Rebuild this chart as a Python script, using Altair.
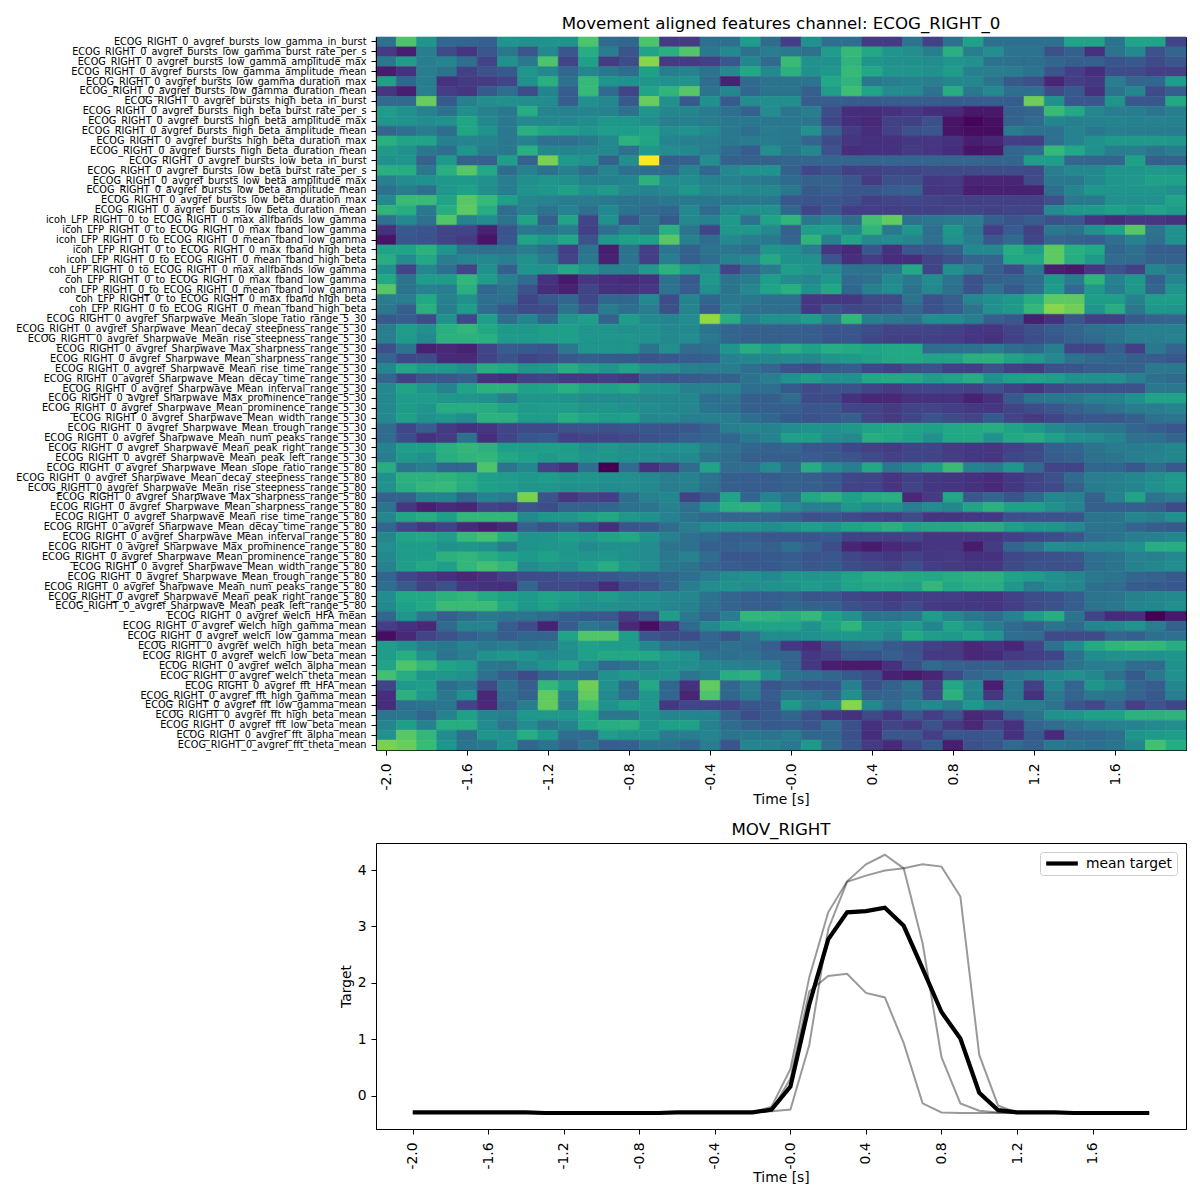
import altair as alt
import pandas as pd

times = [-2.0,-1.9,-1.8,-1.7,-1.6,-1.5,-1.4,-1.3,-1.2,-1.1,-1.0,-0.9,-0.8,-0.7,-0.6,-0.5,-0.4,-0.3,-0.2,-0.1,
         0.0,0.1,0.2,0.3,0.4,0.5,0.6,0.7,0.8,0.9,1.0,1.1,1.2,1.3,1.4,1.5,1.6,1.7,1.8,1.9]
tick_times = [-2.0,-1.6,-1.2,-0.8,-0.4,0.0,0.4,0.8,1.2,1.6]

P = "ECOG_RIGHT_0_avgref_"
C = "LFP_RIGHT_0_to_ECOG_RIGHT_0_"
features = [
 P+"bursts_low_gamma_in_burst",P+"bursts_low_gamma_burst_rate_per_s",P+"bursts_low_gamma_amplitude_max",P+"bursts_low_gamma_amplitude_mean",P+"bursts_low_gamma_duration_max",P+"bursts_low_gamma_duration_mean",
 P+"bursts_high_beta_in_burst",P+"bursts_high_beta_burst_rate_per_s",P+"bursts_high_beta_amplitude_max",P+"bursts_high_beta_amplitude_mean",P+"bursts_high_beta_duration_max",P+"bursts_high_beta_duration_mean",
 P+"bursts_low_beta_in_burst",P+"bursts_low_beta_burst_rate_per_s",P+"bursts_low_beta_amplitude_max",P+"bursts_low_beta_amplitude_mean",P+"bursts_low_beta_duration_max",P+"bursts_low_beta_duration_mean",
 "icoh_"+C+"max_allfbands_low_gamma","icoh_"+C+"max_fband_low_gamma","icoh_"+C+"mean_fband_low_gamma","icoh_"+C+"max_fband_high_beta","icoh_"+C+"mean_fband_high_beta",
 "coh_"+C+"max_allfbands_low_gamma","coh_"+C+"max_fband_low_gamma","coh_"+C+"mean_fband_low_gamma","coh_"+C+"max_fband_high_beta","coh_"+C+"mean_fband_high_beta",
]
for rng in ["5_30","5_80"]:
    for n in ["Mean_slope_ratio","Mean_decay_steepness","Mean_rise_steepness","Max_sharpness","Mean_sharpness","Mean_rise_time","Mean_decay_time","Mean_interval","Max_prominence","Mean_prominence","Mean_width","Mean_trough","Mean_num_peaks","Mean_peak_right","Mean_peak_left"]:
        features.append(P+"Sharpwave_"+n+"_range_"+rng)
for m in ["welch","fft"]:
    for n in ["HFA","high_gamma","low_gamma","high_beta","low_beta","alpha","theta"]:
        features.append(P+m+"_"+n+"_mean")

heat_rows = [
[37,72,52,33,33,30,52,50,51,51,72,35,33,72,17,17,36,36,55,35, 18,50,36,36,17,17,38,19,37,57,36,36,36,36,58,58,38,58,58,20],
[17,8,42,22,15,27,40,27,47,27,62,42,26,58,63,73,40,47,37,42, 40,37,55,67,60,52,49,42,63,42,49,38,38,24,30,14,38,47,25,32],
[40,55,42,45,36,20,50,40,72,20,57,17,23,82,17,17,19,27,46,34, 68,50,50,65,52,50,50,48,52,50,38,37,36,33,30,30,26,28,22,27],
[7,14,42,38,19,25,28,52,47,33,46,40,35,57,42,44,38,47,60,47, 64,50,53,67,60,52,52,50,55,43,42,41,38,26,18,13,23,22,18,19],
[57,33,42,14,17,17,20,50,63,37,67,52,50,52,50,51,35,9,34,38, 38,38,60,65,40,42,44,42,46,46,38,28,24,10,18,16,42,32,33,55],
[15,8,42,18,15,28,36,23,45,29,67,34,20,58,65,74,38,46,33,38, 38,30,55,69,58,48,47,37,62,40,47,36,36,22,28,14,38,46,22,29],
[34,34,77,28,43,49,50,49,48,29,50,46,28,77,50,28,50,28,48,49, 49,29,29,29,29,29,29,29,29,29,29,29,78,50,27,27,52,27,27,60],
[55,50,44,37,49,43,40,62,45,43,45,44,37,52,46,45,41,36,31,48, 39,42,23,13,13,14,16,13,12,6,6,31,32,68,60,46,42,42,38,42],
[53,51,48,50,59,47,40,47,47,47,48,53,53,49,42,43,41,40,40,40, 40,39,21,13,11,19,19,24,5,1,4,31,34,46,43,44,45,44,44,44],
[32,36,41,35,59,51,40,63,59,56,52,55,55,58,48,51,47,40,36,41, 40,50,30,17,13,19,24,27,5,3,3,41,37,37,44,40,42,41,41,41],
[63,58,58,43,45,44,40,44,37,36,40,47,64,59,45,43,42,40,41,41, 40,32,22,15,14,14,16,15,14,8,10,18,18,36,44,50,54,54,54,53],
[54,50,40,36,52,41,40,63,46,45,46,47,37,53,48,47,42,34,29,49, 40,46,25,13,14,14,17,15,13,5,6,33,35,67,60,50,42,42,38,42],
[50,52,31,54,31,30,56,31,80,54,50,31,49,100,30,30,49,31,31,31, 32,32,32,32,32,32,32,32,32,32,32,32,56,55,32,32,32,57,30,31],
[63,62,40,63,74,60,35,44,37,43,36,45,37,35,34,45,33,47,50,51, 31,21,25,19,19,21,21,22,22,22,23,23,22,42,47,47,52,52,54,53],
[43,48,50,53,54,50,42,49,52,49,44,43,45,64,48,48,44,44,41,40, 34,31,31,27,17,24,24,16,17,10,10,10,22,40,40,47,52,53,57,57],
[37,42,36,53,57,49,42,51,53,57,50,54,47,44,47,53,47,48,46,47, 40,28,30,27,27,29,30,15,16,8,9,9,9,36,45,53,52,52,52,49],
[47,68,68,58,74,67,56,46,44,41,41,40,38,38,40,40,40,40,40,40, 27,26,27,24,19,20,21,20,19,19,19,19,19,24,40,40,50,50,50,58],
[65,62,40,62,75,62,35,44,38,44,37,47,38,34,33,47,34,48,50,50, 33,20,26,18,18,18,19,19,20,20,19,20,20,48,53,54,57,54,58,55],
[37,47,37,73,44,48,38,58,30,58,20,50,26,38,28,47,44,54,37,58, 65,40,45,35,70,76,37,40,41,42,30,26,29,24,27,15,12,15,15,14],
[14,28,26,20,20,9,26,40,38,42,19,36,45,38,63,38,20,53,53,47, 30,55,55,47,65,40,52,36,53,40,18,29,19,40,37,50,58,74,38,50],
[5,27,25,20,17,5,27,58,53,59,25,53,57,57,74,44,35,47,42,40, 32,65,43,58,47,48,45,37,50,42,27,34,20,32,31,29,36,44,36,50],
[58,58,64,52,38,36,37,42,37,18,38,8,38,18,39,31,38,39,36,52, 50,42,15,11,27,14,27,27,30,47,47,62,55,75,63,60,33,36,29,29],
[62,48,60,42,46,47,43,50,42,20,40,9,38,18,42,30,36,44,47,61, 50,50,26,13,18,13,13,20,24,32,32,60,60,75,62,54,35,35,31,31],
[50,20,46,36,20,50,30,52,51,60,52,43,43,54,64,54,50,20,32,41, 56,52,48,38,38,40,60,20,50,42,30,22,40,8,6,15,25,19,45,40],
[60,38,55,55,66,55,43,34,14,6,15,13,12,14,37,28,53,38,41,56, 48,46,53,34,37,47,40,48,38,25,31,32,35,53,41,65,44,53,30,45],
[74,38,44,42,63,33,38,25,13,9,20,14,14,16,38,29,50,38,47,58, 63,50,60,33,43,48,38,47,37,25,37,28,36,55,34,54,42,53,33,52],
[42,42,60,44,50,36,36,20,28,33,21,33,33,47,23,45,33,40,40,36, 36,16,16,16,22,22,38,25,30,46,50,54,62,75,75,56,56,44,55,56],
[40,30,63,42,55,35,28,22,23,38,26,41,36,42,24,45,29,42,37,36, 36,16,25,21,22,25,32,25,29,38,50,54,66,82,78,52,62,40,53,52],
[28,29,22,50,21,56,35,45,33,52,56,31,55,47,45,48,84,62,44,50, 50,55,43,66,43,40,38,48,48,42,30,27,8,14,26,18,18,28,31,32],
[42,55,50,63,66,60,54,53,56,56,52,52,50,50,47,47,38,32,31,31, 31,29,27,27,23,20,20,20,19,16,15,20,24,29,32,37,39,42,43,44],
[42,54,47,64,64,63,54,54,55,56,52,52,52,50,47,48,40,33,30,30, 30,29,26,26,21,19,19,19,18,15,14,19,23,27,31,34,38,42,42,44],
[24,38,9,11,9,20,29,28,26,40,52,52,52,38,49,35,36,52,62,56, 62,57,62,61,58,60,60,35,36,37,41,35,33,42,20,20,30,18,40,32],
[33,21,22,12,11,20,25,20,22,27,29,28,28,25,27,29,30,44,46,46, 47,46,52,54,57,60,60,58,58,63,64,58,54,47,38,34,33,30,29,27],
[46,60,54,54,48,62,60,52,54,62,56,52,58,49,48,43,42,42,36,32, 25,22,28,29,21,18,23,24,18,18,24,18,17,24,26,29,30,31,40,40],
[32,19,26,27,30,14,13,19,20,16,16,18,16,28,26,28,30,31,38,42, 50,56,50,50,60,61,60,55,58,62,50,57,58,56,50,50,50,43,37,34],
[47,58,52,44,58,64,64,57,58,63,58,57,60,51,50,43,44,44,36,36, 28,22,25,25,20,17,20,21,20,19,24,19,15,21,24,25,25,25,40,40],
[47,55,55,53,52,50,42,52,52,51,48,48,48,46,46,46,36,38,30,30, 35,22,22,14,11,11,14,14,14,9,14,28,38,40,40,44,44,50,58,58],
[47,55,52,62,62,62,58,54,55,55,52,52,50,48,46,46,38,36,30,30, 30,27,27,20,20,17,20,20,18,16,15,20,23,27,31,35,38,42,42,45],
[47,57,50,53,48,64,64,55,55,62,58,55,57,47,47,42,43,42,36,33, 28,25,27,30,20,17,21,25,22,20,28,20,17,20,25,27,27,30,37,38],
[35,21,29,17,14,15,20,22,22,25,26,24,26,27,26,27,31,43,45,44, 48,51,50,53,58,60,58,57,60,61,62,58,54,47,42,39,38,32,29,27],
[35,23,14,17,37,13,20,26,28,18,20,20,22,25,27,30,32,33,40,44, 56,56,48,47,62,60,57,50,60,60,50,60,62,56,50,48,45,37,36,32],
[44,56,56,63,66,64,56,55,56,55,50,53,50,50,50,50,42,37,33,31, 32,27,27,21,19,17,20,20,17,16,15,19,22,30,33,38,41,41,43,46],
[42,54,50,62,65,66,60,57,54,56,52,52,50,49,47,47,38,35,30,30, 30,29,28,26,22,19,21,20,18,16,15,21,23,29,31,37,39,42,44,46],
[62,38,42,33,33,72,38,46,19,14,36,0,35,14,21,35,58,35,36,48, 35,62,48,42,60,40,47,56,68,44,41,52,34,20,20,33,33,27,35,28],
[50,64,64,65,62,56,55,53,55,52,52,50,49,47,42,44,38,30,29,29, 31,30,27,21,20,15,19,16,15,14,12,16,20,24,34,42,43,46,49,54],
[50,62,66,67,62,57,55,52,53,50,50,48,49,47,42,43,37,30,29,29, 31,30,28,20,20,15,20,16,15,14,11,16,20,22,31,41,43,45,50,54],
[31,31,43,44,33,44,41,80,26,15,20,18,36,43,46,20,28,58,33,45, 37,60,64,57,62,63,11,17,60,27,33,26,34,46,44,31,44,58,38,42],
[38,15,8,12,10,20,18,25,23,31,31,33,37,38,44,37,50,63,64,58, 48,42,42,53,48,50,42,48,46,58,64,57,57,50,45,30,30,30,29,22],
[46,59,62,56,66,66,66,47,53,52,57,60,53,50,44,38,34,32,32,32, 30,24,26,22,20,18,22,15,15,16,16,24,25,25,26,38,38,45,43,50],
[33,20,15,19,12,8,11,30,25,31,22,13,26,28,35,42,48,50,50,48, 52,56,53,58,60,63,58,60,60,62,62,56,52,52,47,38,38,32,29,28],
[46,58,60,55,67,70,62,51,52,56,54,58,60,51,43,37,34,29,29,27, 27,26,28,19,19,18,20,15,15,15,15,18,21,23,27,36,38,42,43,46],
[49,55,55,50,52,50,41,51,52,53,47,50,50,48,38,37,30,30,32,30, 36,30,23,10,7,11,13,15,15,7,17,33,38,48,47,47,47,50,62,62],
[47,55,56,64,66,62,58,54,57,53,52,53,50,48,40,44,35,27,27,28, 29,26,27,21,18,16,19,16,17,14,14,21,23,24,27,36,38,44,43,47],
[44,56,60,56,66,70,66,48,52,50,57,62,54,49,40,38,32,29,28,28, 30,27,28,23,21,19,23,18,17,15,16,22,25,24,25,36,38,44,46,48],
[33,21,17,14,11,14,19,23,23,26,27,27,30,30,33,36,42,48,50,47, 52,52,52,58,62,62,61,60,62,64,64,58,55,50,46,40,38,33,31,28],
[36,28,19,24,15,14,13,33,22,22,20,12,22,25,32,42,48,51,48,50, 52,55,52,58,60,60,58,66,60,62,62,53,42,48,46,37,35,29,28,27],
[48,60,60,64,66,61,57,54,58,56,52,55,50,50,47,46,38,32,30,30, 31,26,26,21,19,17,19,18,18,16,15,19,23,24,29,38,39,43,46,47],
[47,57,61,68,68,68,60,53,57,52,50,50,49,48,46,44,37,32,30,29, 33,31,30,24,22,19,22,17,16,16,15,18,22,25,29,38,40,45,46,49],
[33,52,40,30,35,40,38,38,35,30,28,27,17,25,55,40,32,42,66,65, 63,67,57,50,38,38,40,55,47,40,36,44,56,62,38,20,12,13,0,6],
[18,14,11,34,45,44,29,22,9,29,40,36,11,3,16,34,47,56,57,58, 58,50,58,65,52,50,55,45,58,50,42,34,31,38,34,45,47,51,42,31],
[3,11,20,25,30,34,29,33,32,58,73,73,55,27,23,23,32,26,37,48, 48,50,52,53,52,46,61,55,54,58,52,36,35,22,22,22,32,30,36,37],
[55,50,42,40,44,40,42,38,40,50,57,55,55,46,37,35,33,37,34,30, 16,12,22,32,34,28,24,19,17,11,14,10,20,37,48,61,65,67,66,62],
[55,62,50,38,42,50,53,51,47,48,57,60,60,60,54,50,37,36,37,33, 32,16,19,27,26,30,26,17,17,11,12,17,18,21,37,48,50,50,50,52],
[58,72,66,58,55,40,38,47,52,58,47,34,38,45,50,49,46,44,42,42, 32,16,8,7,7,14,25,34,31,30,30,26,27,30,38,42,42,35,34,50],
[70,62,52,53,50,37,30,22,33,39,37,50,54,50,50,39,44,62,64,50, 38,36,33,28,23,9,7,10,22,32,35,40,43,47,50,46,37,28,40,50],
[20,54,56,36,40,22,38,29,66,55,78,50,35,60,33,14,76,33,42,26, 31,26,27,43,24,31,38,19,60,46,8,40,19,45,32,52,46,33,29,46],
[13,64,54,40,50,11,36,31,76,44,76,47,36,53,33,10,72,33,41,29, 40,38,32,49,31,32,36,22,64,45,15,40,14,40,32,40,38,32,28,42],
[13,36,38,39,20,11,33,42,76,42,70,50,57,53,16,21,20,20,27,27, 54,42,47,82,47,34,42,47,41,53,42,42,42,38,27,22,32,19,26,21],
[39,39,33,44,57,45,42,53,54,53,60,40,40,50,45,45,45,31,23,28, 33,24,16,14,22,16,27,18,26,11,14,30,38,50,52,57,57,64,64,65],
[45,56,44,62,62,48,39,48,40,45,60,62,63,52,57,57,44,35,31,28, 29,26,34,24,14,20,17,25,17,11,20,14,32,35,39,42,44,44,47,49],
[50,74,66,48,36,52,50,62,54,36,34,55,52,52,41,42,45,38,40,38, 41,33,33,24,13,27,27,18,27,26,27,14,28,12,32,33,36,52,54,56],
[80,77,68,52,38,40,50,33,38,31,38,29,30,38,37,33,42,26,45,44, 40,53,35,26,17,12,21,28,8,24,27,34,30,40,38,36,38,46,70,62],
]
assert len(features) == 72 and len(heat_rows) == 72 and all(len(r) == 40 for r in heat_rows)

target_a = [-0.30,-0.30,-0.30,-0.30,-0.30,-0.30,-0.30,-0.30,-0.30,-0.31,-0.31,-0.31,-0.30,-0.30,-0.30,-0.30,-0.30,-0.30,-0.30,-0.20,
            0.47,2.10,3.25,3.80,4.10,4.27,4.03,2.70,0.68,-0.14,-0.27,-0.30,-0.30,-0.30,-0.30,-0.31,-0.31,-0.31,-0.31,-0.31]
target_b = [-0.31,-0.31,-0.31,-0.31,-0.31,-0.31,-0.31,-0.31,-0.31,-0.31,-0.31,-0.31,-0.31,-0.31,-0.31,-0.31,-0.31,-0.31,-0.30,-0.28,
            -0.25,0.90,2.95,3.79,3.90,3.99,4.03,4.10,4.06,3.53,0.72,-0.18,-0.30,-0.30,-0.30,-0.31,-0.31,-0.31,-0.31,-0.32]
target_c = [-0.30,-0.30,-0.30,-0.30,-0.30,-0.30,-0.31,-0.31,-0.31,-0.31,-0.31,-0.31,-0.31,-0.31,-0.30,-0.30,-0.30,-0.30,-0.30,-0.27,
            0.30,1.85,2.12,2.16,1.82,1.74,0.93,-0.14,-0.30,-0.31,-0.31,-0.31,-0.31,-0.31,-0.31,-0.30,-0.30,-0.31,-0.31,-0.31]
target_mean = [-0.30,-0.30,-0.30,-0.30,-0.30,-0.30,-0.30,-0.31,-0.31,-0.31,-0.31,-0.31,-0.31,-0.31,-0.30,-0.30,-0.30,-0.30,-0.30,-0.25,
               0.16,1.62,2.77,3.25,3.27,3.33,3.01,2.25,1.48,1.01,0.05,-0.26,-0.30,-0.30,-0.30,-0.31,-0.31,-0.31,-0.31,-0.31]

FONT = "DejaVu Sans"
label_expr = "datum.value === 0 ? '-0.0' : (datum.value < 0 ? '-' + format(-datum.value, '.1f') : format(datum.value, '.1f'))"

heat_df = pd.DataFrame([
    {"feature": f, "t0": t - 0.05, "t1": t + 0.05, "v": v}
    for f, row in zip(features, heat_rows) for t, v in zip(times, row)
])

def time_axis(title_padding):
    return alt.Axis(values=tick_times, labelExpr=label_expr, labelAngle=270, title="Time [s]", grid=False,
                    labelFontSize=13.9, titleFontSize=13.9, titleFontWeight="normal", tickSize=5, labelPadding=8,
                    domainColor="black", tickColor="black", labelColor="black", titleColor="black",
                    labelFont=FONT, titleFont=FONT, titlePadding=title_padding, labelFlush=False, labelOverlap=False)

heat_color = alt.Scale(scheme="viridis", domain=[0, 100])
heat = alt.Chart(heat_df).mark_rect(strokeWidth=0.6).encode(
    x=alt.X("t0:Q", scale=alt.Scale(domain=[-2.05, 1.95], nice=False, zero=False), axis=time_axis(2)),
    x2="t1:Q",
    y=alt.Y("feature:N", sort=features, scale=alt.Scale(paddingInner=0, paddingOuter=0),
            axis=alt.Axis(title=None, labelFontSize=9.72, tickSize=5, labelPadding=5, grid=False, labelLimit=0,
                          domainColor="black", tickColor="black", labelColor="black", labelFont=FONT, labelOverlap=False)),
    color=alt.Color("v:Q", scale=heat_color, legend=None),
    stroke=alt.Stroke("v:Q", scale=heat_color, legend=None),
).properties(
    width=810, height=713,
    title=alt.TitleParams("Movement aligned features channel: ECOG_RIGHT_0", font=FONT, fontSize=16.67,
                          fontWeight="normal", color="black", anchor="middle", offset=4),
)

line_df = pd.DataFrame(
    [{"t": t, "y": y, "trial": name}
     for name, ys in [("a", target_a), ("b", target_b), ("c", target_c)] for t, y in zip(times, ys)]
)
mean_df = pd.DataFrame({"t": times, "y": target_mean, "series": ["mean target"] * len(times)})

x_scale = alt.Scale(domain=[-2.195, 2.095], nice=False, zero=False)
y_scale = alt.Scale(domain=[-0.594, 4.479], nice=False, zero=False)
y_axis = alt.Axis(values=[0, 1, 2, 3, 4], title="Target", grid=False, labelFontSize=13.9, titleFontSize=13.9,
                  titleFontWeight="normal", tickSize=5, labelPadding=5, domainColor="black", tickColor="black",
                  labelColor="black", titleColor="black", labelFont=FONT, titleFont=FONT, format="d")

trials = alt.Chart(line_df).mark_line(color="black", opacity=0.4, strokeWidth=2).encode(
    x=alt.X("t:Q", scale=x_scale, axis=time_axis(1)),
    y=alt.Y("y:Q", scale=y_scale, axis=y_axis),
    detail="trial:N",
)
mean_line = alt.Chart(mean_df).mark_line(strokeWidth=4.2).encode(
    x=alt.X("t:Q", scale=x_scale, axis=time_axis(1)),
    y=alt.Y("y:Q", scale=y_scale, axis=y_axis),
    color=alt.Color("series:N", scale=alt.Scale(domain=["mean target"], range=["black"]),
                    legend=alt.Legend(title=None, orient="top-right", symbolType="stroke", symbolSize=1000,
                                      symbolStrokeWidth=4.2, labelFontSize=13.9, labelFont=FONT, labelColor="black",
                                      fillColor="white", strokeColor="#cccccc", padding=4, cornerRadius=3, offset=9,
                                      clipHeight=15, labelOffset=6)),
)
target = (trials + mean_line).properties(
    width=810, height=286,
    title=alt.TitleParams("MOV_RIGHT", font=FONT, fontSize=16.67, fontWeight="normal", color="black",
                          anchor="middle", offset=4),
)

chart = (
    alt.vconcat(heat, target, spacing=14)
    .configure_view(stroke="black", strokeWidth=1)
    .properties(background="white", padding={"left": 7, "top": 7, "right": 5, "bottom": 5})
)
chart.save("out.html", embed_options={"renderer": "svg", "actions": False})
